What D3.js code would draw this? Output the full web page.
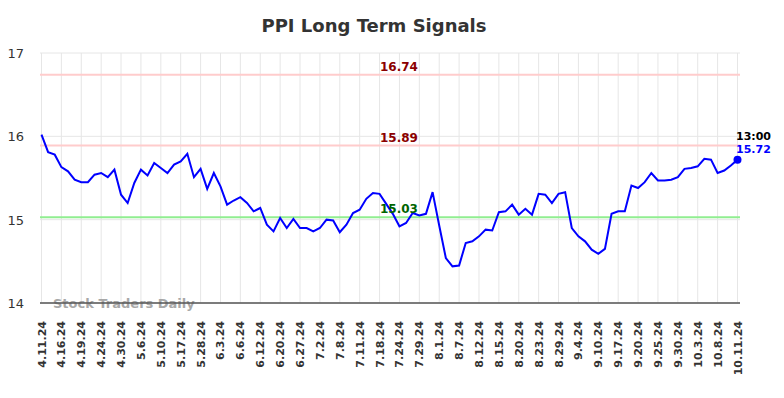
<!DOCTYPE html>
<html>
  <head>
    <title>PPI Long Term Signals</title>
    <meta charset="UTF-8">
    <script src="https://cdnjs.cloudflare.com/ajax/libs/d3/7.8.5/d3.min.js"></script>
  </head>
  <style type="text/css">
    body {
      margin: 0px;
      overflow: hidden;
      background: #fff;
    }
    text {
      font-family: "DejaVu Sans", sans-serif;
    }
    .title {
      font-size: 18px;
      font-weight: bold;
      fill: #333;
    }
    .grid line {
      stroke: #e6e6e6;
      stroke-width: 1;
    }
    .y-label {
      font-size: 13px;
      fill: #333;
      text-anchor: end;
    }
    .x-label {
      font-size: 11px;
      font-weight: bold;
      fill: #333;
      text-anchor: end;
    }
    .level-label {
      font-size: 12px;
      font-weight: bold;
      text-anchor: middle;
    }
    .price {
      fill: none;
      stroke: #0000ff;
      stroke-width: 2;
    }
  </style>
  <body>
    <div id="chart"></div>
    <script>
      // x tick labels, one every 3 points
      const tickLabels = ["4.11.24", "4.16.24", "4.19.24", "4.24.24", "4.30.24", "5.6.24", "5.10.24", "5.17.24",
        "5.28.24", "6.3.24", "6.6.24", "6.12.24", "6.20.24", "6.27.24", "7.2.24", "7.8.24", "7.11.24", "7.18.24",
        "7.24.24", "7.29.24", "8.1.24", "8.7.24", "8.12.24", "8.15.24", "8.20.24", "8.23.24", "8.29.24", "9.4.24",
        "9.10.24", "9.17.24", "9.20.24", "9.25.24", "9.30.24", "10.3.24", "10.8.24", "10.11.24"];

      // price series
      const values = [16.02, 15.81, 15.78, 15.63, 15.58, 15.48, 15.45, 15.45, 15.54, 15.56,
        15.51, 15.60, 15.30, 15.20, 15.44, 15.60, 15.53, 15.68, 15.62, 15.56,
        15.66, 15.70, 15.79, 15.51, 15.61, 15.37, 15.56, 15.40, 15.18, 15.23,
        15.27, 15.20, 15.10, 15.14, 14.94, 14.86, 15.02, 14.90, 15.01, 14.90,
        14.90, 14.86, 14.90, 15.00, 14.99, 14.85, 14.94, 15.08, 15.12, 15.25,
        15.32, 15.31, 15.19, 15.07, 14.92, 14.96, 15.08, 15.05, 15.07, 15.33,
        14.93, 14.54, 14.44, 14.45, 14.72, 14.74, 14.80, 14.88, 14.87, 15.09,
        15.10, 15.18, 15.06, 15.13, 15.06, 15.31, 15.30, 15.20, 15.31, 15.33,
        14.90, 14.80, 14.74, 14.64, 14.59, 14.65, 15.07, 15.10, 15.10, 15.41,
        15.38, 15.45, 15.56, 15.47, 15.47, 15.48, 15.51, 15.61, 15.62, 15.64,
        15.73, 15.72, 15.56, 15.59, 15.65, 15.72];

      const yTicks = [14, 15, 16, 17];

      // signal levels
      const levels = [16.74, 15.89, 15.03];
      const levelLines = ["#ffcccc", "#ffcccc", "#90ee90"];
      const levelText = ["#8b0000", "#8b0000", "#006400"];

      const lastTime = "13:00";

      const width = 784, height = 398;
      const margin = {top: 53, right: 44, bottom: 95, left: 40};

      const svg = d3.select("#chart").append("svg")
        .attr("width", width)
        .attr("height", height);

      const x = d3.scaleLinear()
        .domain([0, values.length - 1])
        .range([41.5, 737.5]);

      const y = d3.scaleLinear()
        .domain([14, 17])
        .range([height - margin.bottom, margin.top]);

      const x0 = margin.left, x1 = width - margin.right;

      // title
      svg.append("text")
        .attr("class", "title")
        .attr("x", 374)
        .attr("y", 32)
        .attr("text-anchor", "middle")
        .text("PPI Long Term Signals");

      // grid
      const grid = svg.append("g").attr("class", "grid");
      const tickIdx = tickLabels.map((d, i) => i * 3);
      grid.selectAll(".vg")
        .data(tickIdx).enter()
        .append("line")
        .attr("x1", d => x(d)).attr("x2", d => x(d))
        .attr("y1", y(17)).attr("y2", y(14));
      grid.selectAll(".hg")
        .data(yTicks).enter()
        .append("line")
        .attr("x1", x0).attr("x2", x1)
        .attr("y1", d => y(d)).attr("y2", d => y(d));

      // y labels
      svg.selectAll(".y-label")
        .data(yTicks).enter()
        .append("text")
        .attr("class", "y-label")
        .attr("x", 24)
        .attr("y", d => y(d) + 5)
        .text(d => d);

      // x labels
      svg.selectAll(".x-label")
        .data(tickLabels).enter()
        .append("text")
        .attr("class", "x-label")
        .attr("transform", (d, i) => `translate(${x(i * 3) + 4},${y(14) + 18}) rotate(-90)`)
        .text(d => d);

      // level lines
      svg.selectAll(".level")
        .data(levels).enter()
        .append("line")
        .attr("x1", x0).attr("x2", x1)
        .attr("y1", d => y(d)).attr("y2", d => y(d))
        .style("stroke", (d, i) => levelLines[i])
        .style("stroke-width", 2);

      // watermark
      svg.append("text")
        .attr("x", 53)
        .attr("y", 308)
        .style("font-size", "13px")
        .style("font-weight", "bold")
        .style("fill", "#999")
        .style("opacity", 0.85)
        .text("Stock Traders Daily");

      // bottom axis line
      svg.append("line")
        .attr("x1", x0).attr("x2", x1)
        .attr("y1", y(14)).attr("y2", y(14))
        .style("stroke", "#555")
        .style("stroke-width", 1.5);

      // price line
      svg.append("path")
        .datum(values)
        .attr("class", "price")
        .attr("d", d3.line().x((d, i) => x(i)).y(d => y(d)));

      // level labels
      svg.selectAll(".level-label")
        .data(levels).enter()
        .append("text")
        .attr("class", "level-label")
        .attr("x", 399)
        .attr("y", d => y(d) - 4)
        .style("fill", (d, i) => levelText[i])
        .text(d => d.toFixed(2));

      // last point
      const last = values.length - 1;
      svg.append("circle")
        .attr("cx", x(last))
        .attr("cy", y(values[last]))
        .attr("r", 4)
        .style("fill", "#0000ff");
      svg.append("text")
        .attr("x", 736)
        .attr("y", y(values[last]) - 20)
        .style("font-size", "11px")
        .style("font-weight", "bold")
        .style("fill", "#000")
        .text(lastTime);
      svg.append("text")
        .attr("x", 736)
        .attr("y", y(values[last]) - 7)
        .style("font-size", "11px")
        .style("font-weight", "bold")
        .style("fill", "#0000ff")
        .text(values[last].toFixed(2));
    </script>
  </body>
</html>
